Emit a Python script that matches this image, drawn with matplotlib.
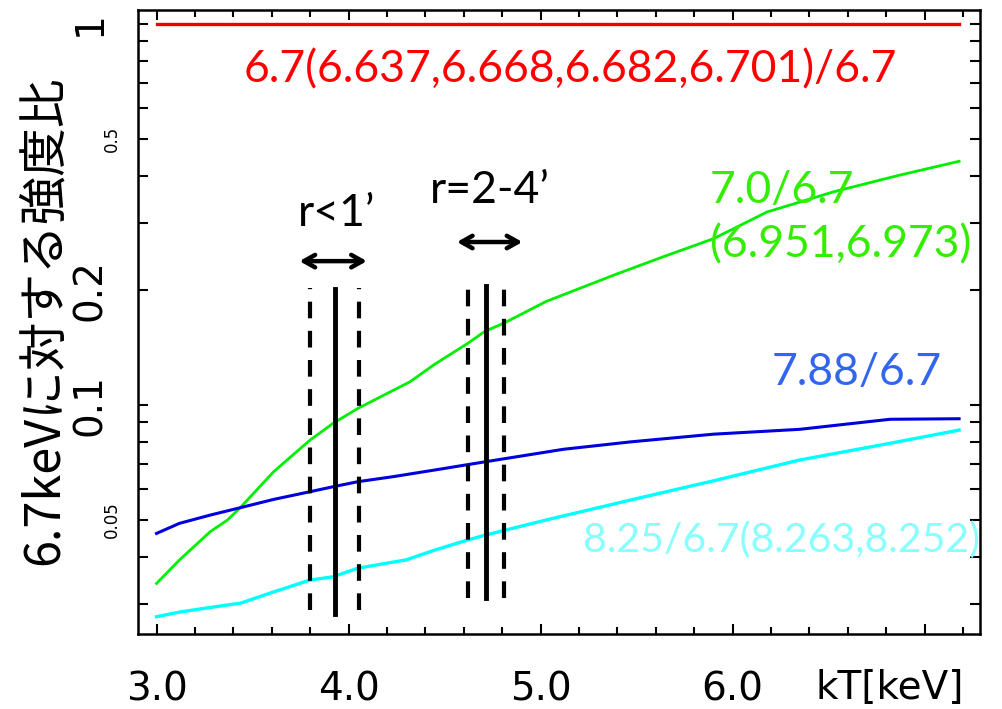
import numpy as np
import matplotlib
matplotlib.use("Agg")
from matplotlib import pyplot as plt
from matplotlib.ticker import FixedLocator, MultipleLocator, NullFormatter

# 6.7 keV line ratio, flat
red_x = [3.0, 7.18]
red_y = [1.0, 1.0]

# 7.0/6.7
green_x = [3.0, 3.12, 3.28, 3.37, 3.44, 3.61, 3.80, 3.92, 4.05, 4.32, 4.45, 4.62,
           4.71, 4.81, 5.03, 5.38, 5.64, 5.90, 6.18, 6.53, 6.87, 7.18]
green_y = [0.034, 0.0392, 0.0465, 0.0499, 0.054, 0.0668, 0.0809, 0.0895, 0.098, 0.115,
           0.128, 0.145, 0.156, 0.164, 0.187, 0.219, 0.245, 0.273, 0.321, 0.363, 0.401, 0.436]

# 7.88/6.7
blue_x = [3.0, 3.12, 3.28, 3.44, 3.61, 3.80, 3.92, 4.05, 4.23, 4.45, 4.71, 5.12,
          5.47, 5.90, 6.35, 6.82, 7.18]
blue_y = [0.046, 0.0489, 0.0514, 0.0538, 0.0565, 0.0592, 0.061, 0.0629, 0.0648, 0.0675,
          0.0709, 0.0765, 0.080, 0.0838, 0.0863, 0.0917, 0.092]

# 8.25/6.7
cyan_x = [3.0, 3.12, 3.28, 3.44, 3.61, 3.80, 3.92, 4.05, 4.30, 4.45, 4.62, 4.71,
          5.03, 5.47, 5.90, 6.35, 6.82, 7.18]
cyan_y = [0.0278, 0.0286, 0.0294, 0.0302, 0.0323, 0.0347, 0.0354, 0.0373, 0.0392, 0.0416,
          0.0442, 0.0455, 0.0499, 0.0563, 0.0632, 0.0717, 0.0793, 0.0859]

# temperature of each region: (center, low, high)
r1_kt = (3.93, 3.80, 4.055)
r24_kt = (4.716, 4.624, 4.811)

xtick_vals = [3, 4, 5, 6]
xtick_labels = ["3.0", "4.0", "5.0", "6.0"]
ytick_big = [1, 0.2, 0.1]
ytick_small = [0.5, 0.05]

plain = ["DejaVu Sans"]
calib = ["Lato", "DejaVu Sans"]

fig = plt.figure(figsize=(10.03, 7.09), dpi=100)
ax = fig.add_axes([0.1371, 0.1058, 0.84, 0.8801])

ax.plot(red_x, red_y, color="#ee0000", lw=2.4)
ax.plot(green_x, green_y, color="#00ee00", lw=2.0)
ax.plot(blue_x, blue_y, color="#0000dd", lw=2.2)
ax.plot(cyan_x, cyan_y, color="#00ffff", lw=2.4)

# region temperatures
ax.plot([r1_kt[0]] * 2, [0.0283, 0.202], color="k", lw=3.5)
for xv in r1_kt[1:]:
    ax.plot([xv] * 2, [0.029, 0.203], color="k", lw=3, dashes=(4, 3))
ax.plot([r24_kt[0]] * 2, [0.0311, 0.205], color="k", lw=3.5)
for xv in r24_kt[1:]:
    ax.plot([xv] * 2, [0.0311, 0.203], color="k", lw=3, dashes=(4, 3))

arrow_style = "<->,head_length=0.8,head_width=0.45"
ax.annotate("", xy=(3.73, 0.2385), xytext=(4.11, 0.2385),
            arrowprops=dict(arrowstyle=arrow_style, lw=3.2, color="k"))
ax.annotate("", xy=(4.55, 0.2677), xytext=(4.92, 0.2677),
            arrowprops=dict(arrowstyle=arrow_style, lw=3.2, color="k"))
ax.text(3.94, 0.319, "r<1’", fontsize=32, family=calib, ha="center", va="center")
ax.text(4.737, 0.366, "r=2-4’", fontsize=32, family=calib, ha="center", va="center")

ax.text(5.154, 0.757, "6.7(6.637,6.668,6.682,6.701)/6.7", color="#ff0000",
        fontsize=32, family=calib, ha="center", va="center")
ax.text(5.883, 0.366, "7.0/6.7", color="#33ee00", fontsize=32, family=calib,
        ha="left", va="center")
ax.text(5.883, 0.263, "(6.951,6.973)", color="#33ee00", fontsize=32, family=calib,
        ha="left", va="center")
ax.text(6.206, 0.1213, "7.88/6.7", color="#3366ee", fontsize=32, family=calib,
        ha="left", va="center")
ax.text(5.221, 0.0442, "8.25/6.7(8.263,8.252)", color="#88ffff", fontsize=29.5,
        family=calib, ha="left", va="center", clip_on=False)

ax.set_yscale("log")
ax.set_xlim(2.901, 7.289)
ax.set_ylim(0.02505, 1.088)

ax.xaxis.set_minor_locator(MultipleLocator(0.2))
ax.set_xticks(xtick_vals + [7])
ax.set_xticklabels(xtick_labels + [""], fontsize=28, family=plain)
ax.tick_params(axis="x", which="major", direction="in", length=7, width=1.5,
               top=True, pad=26)
ax.tick_params(axis="x", which="minor", direction="in", length=5, width=1.5, top=True)

ax.yaxis.set_major_locator(FixedLocator(ytick_big + ytick_small))
ax.yaxis.set_minor_locator(FixedLocator(
    [0.03, 0.04, 0.06, 0.07, 0.08, 0.09, 0.3, 0.4, 0.6, 0.7, 0.8, 0.9]))
ax.yaxis.set_major_formatter(NullFormatter())
ax.yaxis.set_minor_formatter(NullFormatter())
ax.tick_params(axis="y", which="both", direction="in", length=7, width=1.5, right=True)

ytf = ax.get_yaxis_transform()
for v in ytick_big:
    ax.text(-0.0564, v, f"{v:g}", transform=ytf, rotation=90, fontsize=28,
            family=plain, ha="center", va="center", clip_on=False)
for v in ytick_small:
    ax.text(-0.0303, v, f"{v:g}", transform=ytf, rotation=90, fontsize=12,
            family=plain, ha="center", va="center", clip_on=False)

for s in ax.spines.values():
    s.set_linewidth(1.8)

fig.text(890 / 1003, 1 - 688 / 709, "kT[keV]", fontsize=28, family=plain,
         ha="center", va="center")
fig.text(45 / 1003, 1 - 320 / 709, "6.7keVに対する強度比", rotation=90, fontsize=35,
         family=["Noto Sans CJK JP", "DejaVu Sans"], ha="center", va="center")

fig.savefig("out.png", dpi=100)
